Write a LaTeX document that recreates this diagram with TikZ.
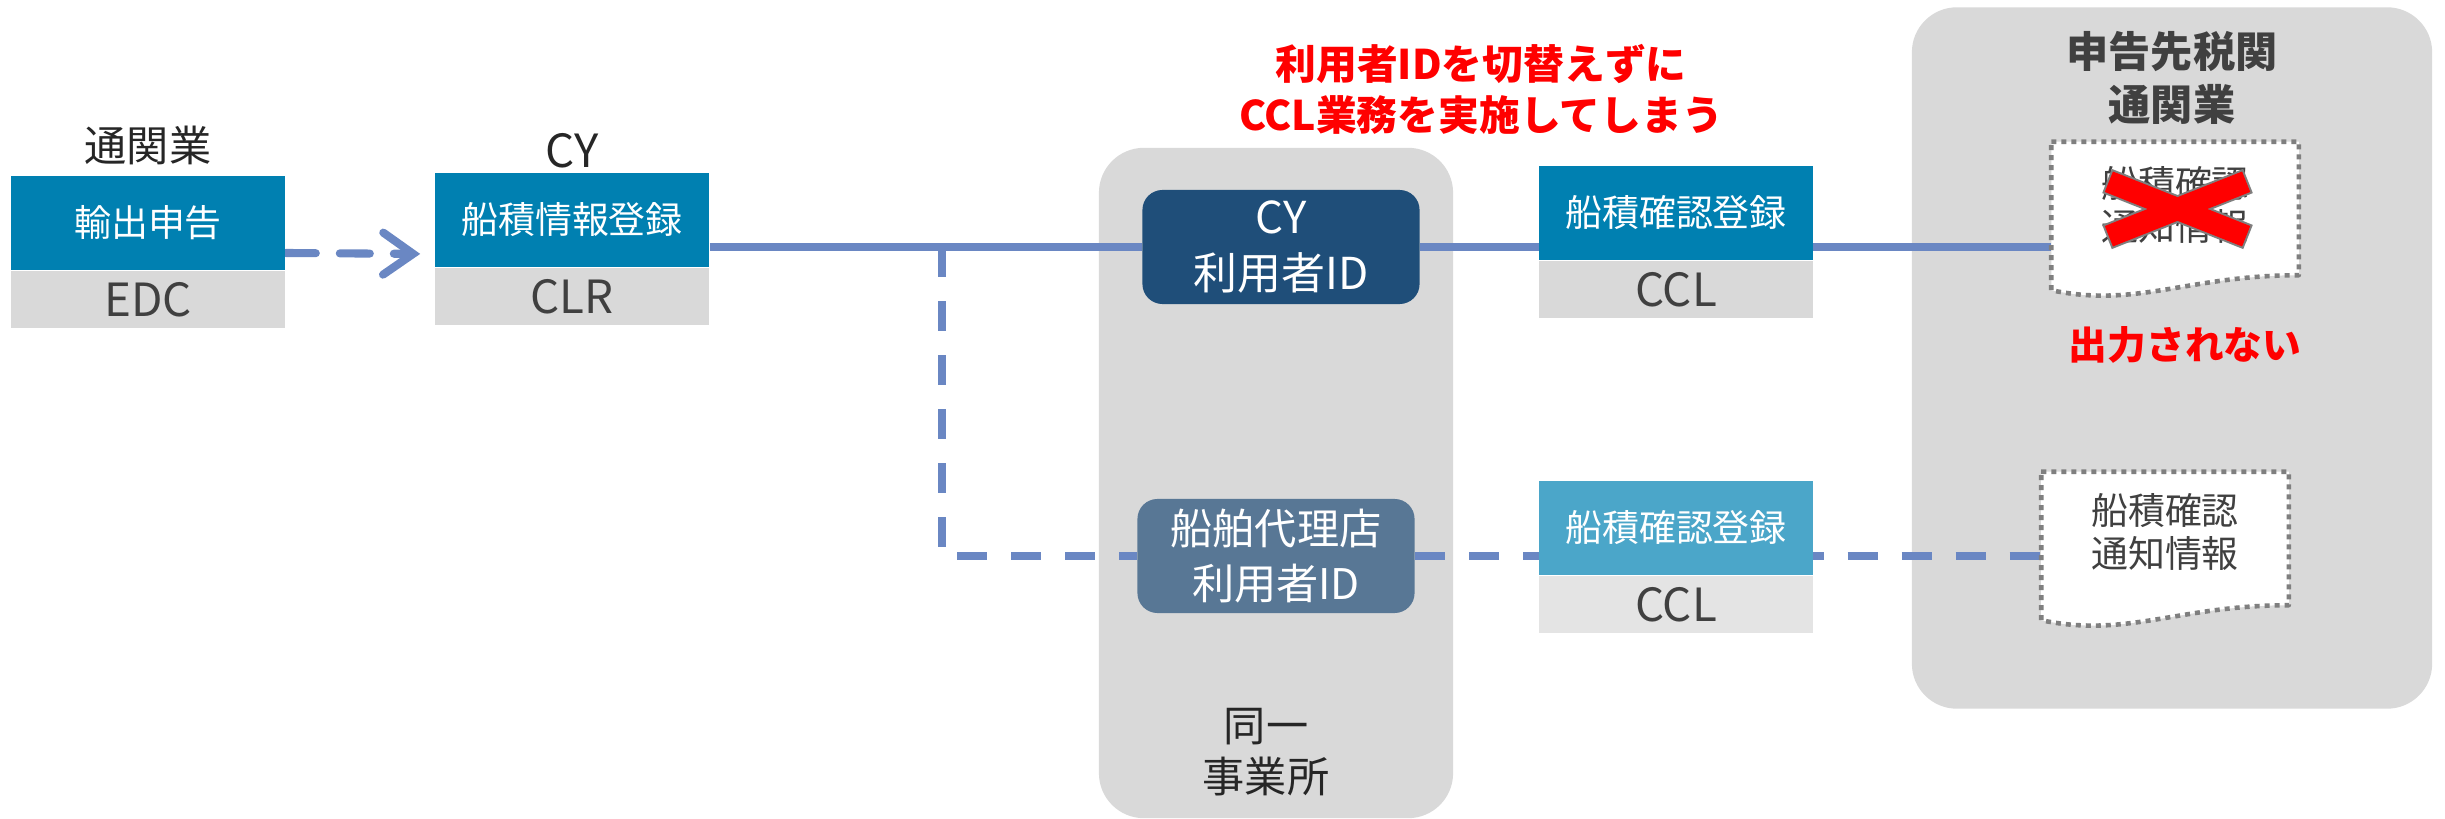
\documentclass[tikz,border=0pt]{standalone}
\usepackage{fontspec}
\setmainfont{Noto Sans CJK JP}
\usetikzlibrary{positioning,calc,arrows.meta}
\pgfdeclarelayer{panels}
\pgfdeclarelayer{lines}
\pgfsetlayers{panels,lines,main}
\definecolor{opblue}{HTML}{0080B1}
\definecolor{oplight}{HTML}{4BA6C9}
\definecolor{sysgray}{HTML}{D9D9D9}
\definecolor{syslight}{HTML}{E4E4E4}
\definecolor{idnavy}{HTML}{1F4E79}
\definecolor{idslate}{HTML}{587795}
\definecolor{panelgray}{HTML}{D9D9D9}
\definecolor{flowblue}{HTML}{6A87C3}
\definecolor{txtgray}{HTML}{404040}
\definecolor{docgray}{HTML}{7F7F7F}
\newcommand{\sz}[2]{\fontsize{#1pt}{#2pt}\selectfont}
% document shape round an empty node
\newcommand{\drawdoc}[1]{%
  \draw[docline] (#1.north west) -- (#1.north east) -- ($(#1.south east)+(0,-21)$)
    .. controls ($(#1.south east)+(-110,-21)$) and ($(#1.south west)+(86,12)$) .. ($(#1.south west)+(0,-6)$) -- cycle;}
\begin{document}
\begin{tikzpicture}[x=0.01cm, y=-0.01cm, line join=round,
  opbox/.style={rectangle, fill=opblue, text=white, minimum width=2.74cm, minimum height=0.94cm, inner sep=0pt, font=\sz{10.5}{12}},
  sysbox/.style={rectangle, fill=sysgray, text=txtgray, minimum width=2.74cm, minimum height=0.57cm, inner sep=0pt, font=\sz{13}{14}},
  idbox/.style={rectangle, rounded corners=0.2cm, text=white, minimum width=2.77cm, minimum height=1.14cm, align=center, inner sep=0pt, font=\sz{12.5}{16}},
  panel/.style={rectangle, rounded corners=0.45cm, fill=panelgray, inner sep=0pt},
  headtext/.style={text=black!85, align=center, font=\sz{12}{14.5}},
  flow/.style={draw=flowblue, line width=2.3pt},
  dashflow/.style={flow, dash pattern=on 0.3cm off 0.24cm},
  doc/.style={rectangle, minimum width=2.46cm, minimum height=1.53cm, inner sep=0pt},
  docline/.style={draw=docgray, fill=white, line width=1.3pt, dash pattern=on 0.05cm off 0.05cm},
  doctext/.style={text=txtgray, align=center, font=\sz{10.5}{12.5}},
  warn/.style={text=red, align=center, font=\bfseries\sz{11.6}{14.5}}]
\useasboundingbox (0,0) rectangle (2445,819);
\begin{pgfonlayer}{panels}
\node[panel, minimum width=3.54cm, minimum height=6.70cm] (officepanel) at (1276,483) {};
\node[panel, minimum width=5.20cm, minimum height=7.01cm] (customspanel) at (2172,358) {};
\end{pgfonlayer}
\begin{scope}
\node[headtext] (lbledc) at (148,145) {通関業};
\node[opbox] (edc) at (148,223) {輸出申告};
\node[sysbox, below=0pt of edc] (edcsys) {EDC};
\node[headtext, font=\sz{13}{15}] (lblcy) at (572,151) {CY};
\node[opbox] (regclr) at (572,220) {船積情報登録};
\node[sysbox, below=0pt of regclr] (clrsys) {CLR};
\node[idbox, fill=idnavy] (cyid) at (1281,247) {CY\\利用者ID};
\node[idbox, fill=idslate, font=\sz{12}{15.5}] (agentid) at (1276,556) {船舶代理店\\利用者ID};
\node[headtext] (office) at (1266,752) {同一\\事業所};
\node[opbox] (cclreg1) at (1676,213) {船積確認登録};
\node[sysbox, below=0pt of cclreg1] (ccl1) {CCL};
\node[opbox, fill=oplight] (cclreg2) at (1676,528) {船積確認登録};
\node[sysbox, fill=syslight, below=0pt of cclreg2] (ccl2) {CCL};
\node[headtext, text=txtgray, font=\bfseries\sz{12}{15}] (customs) at (2172,78) {申告先税関\\通関業};
\node[warn] (note) at (1481,89) {利用者IDを切替えずに\\CCL業務を実施してしまう};
\end{scope}
% documents
\node[doc] (doc1) at (2175,219) {};
\drawdoc{doc1}
\node[doctext] (doc1text) at ($(doc1)+(0,-14)$) {船積確認\\通知情報};
\draw[line width=0.26cm, docgray] ($(doc1)+(-68,-38)$) -- ($(doc1)+(73,18)$);
\draw[line width=0.26cm, docgray] ($(doc1)+(-68,18)$) -- ($(doc1)+(73,-38)$);
\draw[line width=0.22cm, red, shorten >=0.02cm, shorten <=0.02cm] ($(doc1)+(-68,-38)$) -- ($(doc1)+(73,18)$);
\draw[line width=0.22cm, red, shorten >=0.02cm, shorten <=0.02cm] ($(doc1)+(-68,18)$) -- ($(doc1)+(73,-38)$);
\node[warn, font=\bfseries\sz{11}{13}] (noout) at (2185,345) {出力されない};
\node[doc] (doc2) at (2165,549) {};
\drawdoc{doc2}
\node[doctext] (doc2text) at ($(doc2)+(0,-17)$) {船積確認\\通知情報};
% connectors
\coordinate (fork) at (942,247);
\begin{pgfonlayer}{lines}
\draw[dashflow, line cap=round, -{Straight Barb[length=0.3cm, width=0.42cm, line cap=round]}, shorten >=0.14cm] ($(edc.east)+(0,30)$) -- ($(regclr.west)+(0,34)$);
\draw[flow] (regclr.east |- cyid.west) -- (cyid.west);
\draw[flow] (cyid.east) -- (doc1.west |- cyid.east);
\draw[dashflow] (fork) |- (agentid.west);
\draw[dashflow] (agentid.east) -- (doc2.west |- agentid.east);
\end{pgfonlayer}
\end{tikzpicture}
\end{document}
